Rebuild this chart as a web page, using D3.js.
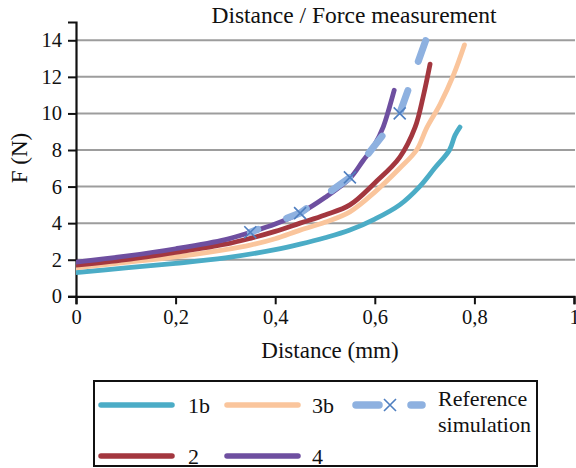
<!DOCTYPE html>
<html>
<head>
<meta charset="utf-8">
<script src="https://cdn.jsdelivr.net/npm/d3@7"></script>
<style>
  body { margin: 0; background: #fff; }
</style>
</head>
<body>
<div id="paper"></div>
<script>
// data (distance mm, force N)

const s1b_x = [0, 0.1, 0.2, 0.3, 0.4, 0.45, 0.5, 0.55, 0.6, 0.65, 0.69, 0.72, 0.75, 0.761, 0.771]
const s1b_y = [1.3, 1.55, 1.8, 2.1, 2.55, 2.85, 3.2, 3.62, 4.22, 5.0, 6.0, 7.0, 8.0, 8.8, 9.25]

const s3b_x = [0, 0.1, 0.2, 0.3, 0.35, 0.4, 0.45, 0.5, 0.55, 0.6, 0.65, 0.684, 0.704, 0.731, 0.758, 0.78]
const s3b_y = [1.55, 1.85, 2.15, 2.55, 2.8, 3.15, 3.62, 4.05, 4.62, 5.7, 7.0, 8.0, 9.2, 10.5, 12.1, 13.75]

const s2_x = [0, 0.1, 0.2, 0.3, 0.35, 0.4, 0.45, 0.5, 0.55, 0.6, 0.65, 0.681, 0.697, 0.711]
const s2_y = [1.7, 2.0, 2.4, 2.85, 3.17, 3.55, 4.0, 4.45, 5.0, 6.2, 7.6, 9.25, 10.9, 12.7]

const s4_x = [0, 0.1, 0.2, 0.3, 0.35, 0.4, 0.45, 0.5, 0.55, 0.576, 0.6, 0.617, 0.629, 0.639]
const s4_y = [1.87, 2.2, 2.6, 3.1, 3.5, 3.95, 4.55, 5.4, 6.45, 7.4, 8.3, 9.27, 10.3, 11.27]

const ref_x = [0.35, 0.45, 0.55, 0.65, 0.705]
const ref_y = [3.5, 4.55, 6.5, 10.0, 14.2]
const ref_marked = 4 // only the first four points carry an x marker

const x_ticks = [0, 0.2, 0.4, 0.6, 0.8, 1]
const y_ticks = [0, 2, 4, 6, 8, 10, 12, 14]

const names = ['1b', '3b', 'Reference simulation', '2', '4']
const colors = {'1b': '#4bacc6', '3b': '#fac59c', '2': '#a3373f', '4': '#6e4fa0', 'ref': '#8eb1e0', 'marker': '#4f7fc0'}

const serif = '"Liberation Serif", "Times New Roman", serif'

// svg

const svg = d3.select("#paper")
    .append("svg")
    .attr("id", "canvas")
    .attr("width", 576)
    .attr("height", 468)
    .attr("font-family", serif)
    .attr("fill", "#111")

const x = d3.scaleLinear().domain([0, 1]).range([76, 574])
const y = d3.scaleLinear().domain([0, 15]).range([296.3, 22])

const comma = d => String(d).replace('.', ',')

// grid

svg.append('g')
    .selectAll('line')
    .data(y_ticks.filter(d => d > 0))
    .join('line')
    .attr('x1', x(0))
    .attr('x2', 575)
    .attr('y1', d => y(d))
    .attr('y2', d => y(d))
    .style('stroke', '#9d9d9d')
    .style('stroke-width', 2)

// axes

const yAxis = svg.append('g')
    .attr('transform', `translate(${x(0)},0)`)
    .call(d3.axisLeft(y).tickValues(y_ticks).tickSize(8).tickPadding(6).tickFormat(comma))
const xAxis = svg.append('g')
    .attr('transform', `translate(0,${y(0)})`)
    .call(d3.axisBottom(x).tickValues(x_ticks).tickSize(8).tickPadding(5).tickFormat(comma))

Array(yAxis, xAxis).forEach(g => {
    g.attr('font-family', serif).attr('font-size', '20.5px')
    g.select('.domain').attr('stroke', '#111').attr('stroke-width', 2.2)
    g.selectAll('.tick line').attr('stroke', '#111').attr('stroke-width', 2)
    g.selectAll('.tick text').attr('fill', '#111')
})

// clip to plot area

svg.append('clipPath').attr('id', 'plotclip')
    .append('rect').attr('x', 76).attr('y', 22).attr('width', 500).attr('height', 276)

const line = d3.line().x(d => x(d[0])).y(d => y(d[1])).curve(d3.curveCatmullRom.alpha(0.5))

const plot = svg.append('g').attr('clip-path', 'url(#plotclip)')

function series_line(xs, ys, key) {
    plot.append('path')
        .datum(d3.zip(xs, ys))
        .attr('d', line)
        .style('fill', 'none')
        .style('stroke', colors[key])
        .style('stroke-width', 4.8)
        .style('stroke-linecap', 'round')
        .style('stroke-linejoin', 'round')
}

series_line(s1b_x, s1b_y, '1b')
series_line(s3b_x, s3b_y, '3b')
series_line(s2_x, s2_y, '2')
series_line(s4_x, s4_y, '4')

// reference simulation, dashed with x markers

plot.append('path')
    .datum(d3.zip(ref_x, ref_y))
    .attr('d', d3.line().x(d => x(d[0])).y(d => y(d[1])))
    .style('fill', 'none')
    .style('stroke', colors.ref)
    .style('stroke-width', 7)
    .style('stroke-linecap', 'round')
    .style('stroke-dasharray', '22,31')
    .style('stroke-dashoffset', '14')

function cross(g, cx, cy, r) {
    g.append('path')
        .attr('d', `M${cx - r},${cy - r}L${cx + r},${cy + r}M${cx - r},${cy + r}L${cx + r},${cy - r}`)
        .style('stroke', colors.marker)
        .style('stroke-width', 1.6)
        .style('fill', 'none')
}

d3.zip(ref_x, ref_y).slice(0, ref_marked).forEach(d => cross(plot, x(d[0]), y(d[1]), 6))

// text elements

svg.append('text')
    .attr('x', 354).attr('y', 23)
    .attr('text-anchor', 'middle')
    .attr('font-size', '23.5px')
    .text('Distance / Force measurement')

svg.append('text')
    .attr('x', 330).attr('y', 358)
    .attr('text-anchor', 'middle')
    .attr('font-size', '23px')
    .text('Distance (mm)')

svg.append('text')
    .attr('transform', 'translate(27,158) rotate(-90)')
    .attr('text-anchor', 'middle')
    .attr('font-size', '23px')
    .text('F (N)')

// legend

const legend = svg.append('g')
legend.append('rect')
    .attr('x', 94).attr('y', 381).attr('width', 443).attr('height', 85)
    .style('fill', 'none').style('stroke', '#111').style('stroke-width', 2)

const legend_items = [
    {key: '1b', label: names[0], x1: 101, x2: 172, ly: 405, tx: 188},
    {key: '3b', label: names[1], x1: 227, x2: 298, ly: 405, tx: 312},
    {key: '2', label: names[3], x1: 101, x2: 172, ly: 456, tx: 188},
    {key: '4', label: names[4], x1: 227, x2: 298, ly: 456, tx: 312}
]

legend_items.forEach(d => {
    legend.append('line')
        .attr('x1', d.x1).attr('x2', d.x2).attr('y1', d.ly).attr('y2', d.ly)
        .style('stroke', colors[d.key]).style('stroke-width', 5.5).style('stroke-linecap', 'round')
    legend.append('text')
        .attr('x', d.tx).attr('y', d.ly + 8)
        .attr('font-size', '22px')
        .text(d.label)
})

Array([356, 379], [411, 422]).forEach(p => {
    legend.append('line')
        .attr('x1', p[0]).attr('x2', p[1]).attr('y1', 405).attr('y2', 405)
        .style('stroke', colors.ref).style('stroke-width', 7.5).style('stroke-linecap', 'round')
})
cross(legend, 390, 405, 6)

const ref_words = names[2].split(' ')
legend.append('text').attr('x', 438).attr('y', 406).attr('font-size', '22px').text(ref_words[0])
legend.append('text').attr('x', 438).attr('y', 432).attr('font-size', '22px').text(ref_words[1])
</script>
</body>
</html>
